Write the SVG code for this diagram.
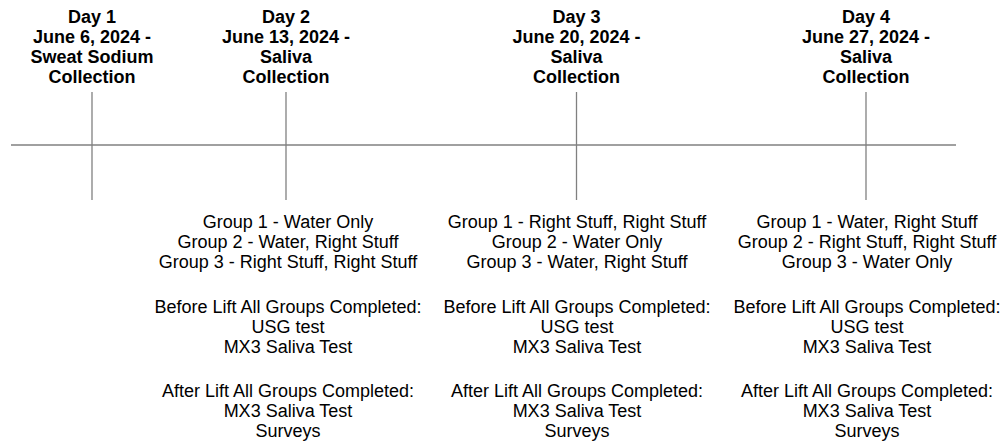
<svg xmlns="http://www.w3.org/2000/svg" width="1005" height="442" viewBox="0 0 1005 442">
<style>
.h{font-family:"Liberation Sans",Arial,sans-serif;font-size:18px;font-weight:bold;fill:#000;text-anchor:middle}
.b{font-family:"Liberation Sans",Arial,sans-serif;font-size:18px;fill:#000;text-anchor:middle}
.ln{stroke:#808080;stroke-width:1.3;fill:none}
</style>
<rect width="1005" height="442" fill="#fff"/>
<g id="connectors">
<line class="ln" x1="11" y1="145" x2="956" y2="145"/>
<line class="ln" x1="92" y1="92" x2="92" y2="200"/>
<line class="ln" x1="286" y1="92" x2="286" y2="200"/>
<line class="ln" x1="576.5" y1="92" x2="576.5" y2="200"/>
<line class="ln" x1="866" y1="92" x2="866" y2="200"/>
</g>
<g id="day1">
<text class="h" x="92" y="22.7">Day 1</text>
<text class="h" x="92" y="42.9">June 6, 2024 -</text>
<text class="h" x="92" y="63.1">Sweat Sodium</text>
<text class="h" x="92" y="83.3">Collection</text>
</g>
<g id="day2">
<text class="h" x="286" y="22.7">Day 2</text>
<text class="h" x="286" y="42.9">June 13, 2024 -</text>
<text class="h" x="286" y="63.1">Saliva</text>
<text class="h" x="286" y="83.3">Collection</text>
<text class="b" x="288" y="227.5">Group 1 - Water Only</text>
<text class="b" x="288" y="247.5">Group 2 - Water, Right Stuff</text>
<text class="b" x="288" y="267.5">Group 3 - Right Stuff, Right Stuff</text>
<text class="b" x="288" y="312.5">Before Lift All Groups Completed:</text>
<text class="b" x="288" y="333">USG test</text>
<text class="b" x="288" y="353">MX3 Saliva Test</text>
<text class="b" x="288" y="397">After Lift All Groups Completed:</text>
<text class="b" x="288" y="417">MX3 Saliva Test</text>
<text class="b" x="288" y="437">Surveys</text>
</g>
<g id="day3">
<text class="h" x="576.5" y="22.7">Day 3</text>
<text class="h" x="576.5" y="42.9">June 20, 2024 -</text>
<text class="h" x="576.5" y="63.1">Saliva</text>
<text class="h" x="576.5" y="83.3">Collection</text>
<text class="b" x="577" y="227.5">Group 1 - Right Stuff, Right Stuff</text>
<text class="b" x="577" y="247.5">Group 2 - Water Only</text>
<text class="b" x="577" y="267.5">Group 3 - Water, Right Stuff</text>
<text class="b" x="577" y="312.5">Before Lift All Groups Completed:</text>
<text class="b" x="577" y="333">USG test</text>
<text class="b" x="577" y="353">MX3 Saliva Test</text>
<text class="b" x="577" y="397">After Lift All Groups Completed:</text>
<text class="b" x="577" y="417">MX3 Saliva Test</text>
<text class="b" x="577" y="437">Surveys</text>
</g>
<g id="day4">
<text class="h" x="866" y="22.7">Day 4</text>
<text class="h" x="866" y="42.9">June 27, 2024 -</text>
<text class="h" x="866" y="63.1">Saliva</text>
<text class="h" x="866" y="83.3">Collection</text>
<text class="b" x="867" y="227.5">Group 1 - Water, Right Stuff</text>
<text class="b" x="867" y="247.5">Group 2 - Right Stuff, Right Stuff</text>
<text class="b" x="867" y="267.5">Group 3 - Water Only</text>
<text class="b" x="867" y="312.5">Before Lift All Groups Completed:</text>
<text class="b" x="867" y="333">USG test</text>
<text class="b" x="867" y="353">MX3 Saliva Test</text>
<text class="b" x="867" y="397">After Lift All Groups Completed:</text>
<text class="b" x="867" y="417">MX3 Saliva Test</text>
<text class="b" x="867" y="437">Surveys</text>
</g>
</svg>
